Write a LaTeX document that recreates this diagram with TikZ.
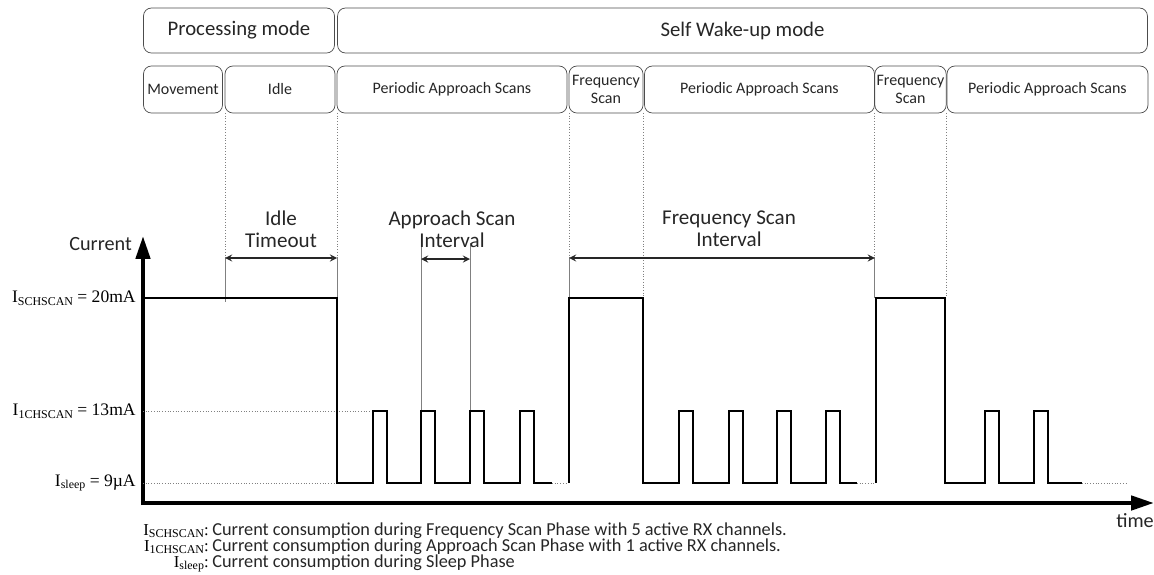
\documentclass[tikz,border=0pt]{standalone}
\usepackage{fontspec}
\setmainfont{Carlito}
\newfontfamily\serfont{Liberation Serif}
\usetikzlibrary{arrows.meta}
\newcommand\isub[1]{\raisebox{-0.35ex}{\fontsize{6.8}{7}\selectfont #1}}
\tikzset{
  modebox/.style={draw=black!70, rounded corners=4.5pt, inner sep=1pt, outer sep=0pt, align=center,
    minimum height=0.9cm, text=black!85, font=\fontsize{11.8}{13}\selectfont},
  phasebox/.style={modebox, minimum height=0.94cm, font=\fontsize{9.1}{10.2}\selectfont},
  guideline/.style={black!50, densely dotted, line width=0.55pt},
  markline/.style={black!50, line width=0.5pt},
  interval/.style={<->, line width=0.8pt, black!85},
  wave/.style={line width=1.5pt, line join=miter},
  axis/.style={line width=2.4pt, -{Triangle[length=13pt,width=8pt]}},
  tag/.style={font=\fontsize{12}{12.5}\selectfont, align=center, text=black!85},
  level/.style={anchor=east, inner sep=0pt, font=\serfont\fontsize{10}{12}\selectfont},
  note/.style={inner sep=0pt, text=black!85, font=\fontsize{10.4}{11}\selectfont},
  notekey/.style={inner sep=0pt, anchor=base east, font=\serfont\fontsize{9.5}{11}\selectfont}
}
\begin{document}
\begin{tikzpicture}[x=0.02cm,y=-0.02cm,>=stealth]
  \useasboundingbox (0,0) rectangle (1154,575);
  % levels of the current
  \coordinate (hi) at (0,298);
  \coordinate (mid) at (0,411);
  \coordinate (lo) at (0,483);
  \coordinate (arw) at (0,258);

  % modes and phases
  \node[modebox, minimum width=3.82cm] (proc) at (239,30.5) {Processing mode};
  \node[modebox, minimum width=16.2cm] (wake) at (742.5,30.5) {Self Wake-up mode};
  \node[phasebox, minimum width=1.58cm] (move) at (183,89.5) {Movement};
  \node[phasebox, minimum width=2.2cm] (idle) at (280,89.5) {Idle};
  \node[phasebox, minimum width=4.6cm] (pas1) at (452,89.5) {Periodic Approach Scans};
  \node[phasebox, minimum width=1.48cm] (fs1) at (606,89.5) {Frequency\\Scan};
  \node[phasebox, minimum width=4.6cm] (pas2) at (759.5,89.5) {Periodic Approach Scans};
  \node[phasebox, minimum width=1.38cm] (fs2) at (910.5,89.5) {Frequency\\Scan};
  \node[phasebox, minimum width=4.02cm] (pas3) at (1047.5,89.5) {Periodic Approach Scans};

  \foreach \b in {idle.south west, pas1.south west, fs1.south west, fs1.south east, fs2.south west, fs2.south east}
    \draw[guideline] (\b) -- (\b |- hi);

  % intervals
  \draw[markline] (idle.south west |- arw) -- ++(0,44);
  \draw[markline] (pas1.south west |- arw) -- (pas1.south west |- hi);
  \draw[markline] (fs1.south west |- arw) -- (fs1.south west |- hi);
  \draw[markline] (fs2.south west |- arw) -- (fs2.south west |- hi);
  \draw[markline] (421,243) -- (421,411);
  \draw[markline] (470,243) -- (470,411);
  \draw[interval] (idle.south west |- arw) -- (pas1.south west |- arw);
  \draw[interval] (421,259) -- (470,259);
  \draw[interval] (fs1.south west |- arw) -- (fs2.south west |- arw);
  \node[tag] (idletag) at (281,229) {Idle\\Timeout};
  \node[tag] (apptag) at (452,229) {Approach Scan\\Interval};
  \node[tag] (freqtag) at (729,229) {Frequency Scan\\Interval};

  % axes
  \draw[axis] (143,505.1) -- (143,236);
  \draw[axis] (140.9,503) -- (1154,503);
  \node[anchor=east, font=\fontsize{11.5}{13}\selectfont, text=black!85] (cur) at (138,244) {Current};
  \node[font=\fontsize{11.5}{13}\selectfont, text=black!85] (tim) at (1135,521) {time};
  \node[level] (lhi) at (136,298) {I\isub{SCHSCAN} = 20mA};
  \node[level] (lmid) at (136,411) {I\isub{1CHSCAN} = 13mA};
  \node[level] (llo) at (136,483) {I\isub{sleep} = 9µA};
  \draw[guideline] (143,411) -- (373,411);
  \draw[guideline] (143,483) -- (337,483);

  % current waveform
  \draw[wave] (143,298) -- (337,298) -- (337,483)
    \foreach \p in {373,421,470,520} { -- (\p,483) -- (\p,411) -- (\p+14,411) -- (\p+14,483) } -- (552,483);
  \draw[guideline] (552,483) -- (568,483);
  \draw[wave] (569,483) -- (569,298) -- (643,298) -- (643,483)
    \foreach \p in {679,729,777,826} { -- (\p,483) -- (\p,411) -- (\p+14,411) -- (\p+14,483) } -- (857,483);
  \draw[guideline] (857,483) -- (875,483);
  \draw[wave] (876,483) -- (876,298) -- (945,298) -- (945,483)
    \foreach \p in {985,1034} { -- (\p,483) -- (\p,411) -- (\p+14,411) -- (\p+14,483) } -- (1082,483);
  \draw[guideline] (1082,483) -- (1127,483);

  % legend
  \node[notekey] (k1) at (209,535) {I\isub{SCHSCAN}:};
  \node[note, anchor=base west] (d1) at (212,535) {Current consumption during Frequency Scan Phase with 5 active RX channels.};
  \node[notekey] (k2) at (209,551) {I\isub{1CHSCAN}:};
  \node[note, anchor=base west] (d2) at (212,551) {Current consumption during Approach Scan Phase with 1 active RX channels.};
  \node[notekey] (k3) at (209,567) {I\isub{sleep}:};
  \node[note, anchor=base west] (d3) at (212,567) {Current consumption during Sleep Phase};
\end{tikzpicture}
\end{document}
